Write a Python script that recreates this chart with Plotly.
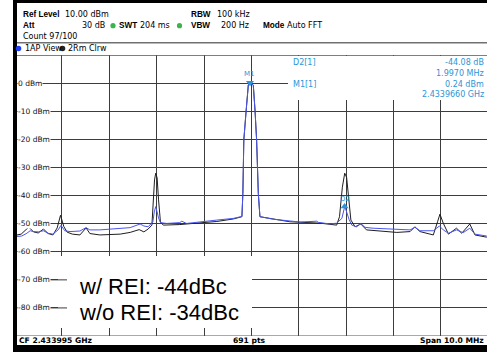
import plotly.graph_objects as go

W, H = 487, 352

# ---------------- data (frequency offset from CF in MHz, level in dBm) ----------------
# Trace 1: "1AP View" (blue) - with REI
freq_ap = [-5.0, -4.85, -4.74, -4.67, -4.60, -4.50, -4.39, -4.29, -4.19, -4.08,
           -4.02, -3.94, -3.83, -3.62, -3.49, -3.41, -3.20, -2.99, -2.77, -2.56,
           -2.35, -2.27, -2.18, -2.08, -2.05, -2.02, -1.99, -1.96, -1.92, -1.79,
           -1.51, -1.47, -1.37, -1.09, -0.73, -0.38, -0.20, -0.18, -0.16, -0.11,
           -0.065, -0.03, 0.04, 0.076, 0.11, 0.146, 0.18, 0.46, 0.81, 1.03,
           1.38, 1.41, 1.66, 1.80, 1.91, 1.94, 1.97, 2.01, 2.06, 2.12,
           2.22, 2.31, 2.40, 2.57, 3.00, 3.35, 3.45, 3.56, 3.84, 3.97,
           4.05, 4.16, 4.33, 4.47, 4.61, 4.72, 4.97]
level_ap = [-54.6, -54.4, -53.4, -52.5, -52.8, -52.9, -52.5, -53.4, -53.7, -52.2,
            -50.6, -52.5, -52.8, -52.6, -51.4, -52.2, -52.2, -51.9, -51.6, -51.4,
            -50.1, -50.8, -51.1, -49.3, -45.8, -43.9, -45.8, -48.0, -49.6, -49.9,
            -49.6, -49.1, -49.9, -49.3, -48.7, -48.1, -47.4, -39.2, -20.2, -9.5,
            -0.6, 0.24, -0.6, -9.5, -20.2, -39.2, -47.5, -48.4, -49.0, -49.4,
            -49.1, -49.5, -50.1, -49.8, -48.1, -45.8, -43.84, -45.8, -48.4, -50.5,
            -51.1, -49.9, -51.3, -51.6, -52.0, -52.2, -51.3, -52.5, -52.5, -50.8,
            -52.2, -53.4, -52.2, -53.2, -51.6, -53.7, -54.4]

# Trace 2: "2Rm Clrw" (black) - without REI
freq_rm = [-5.0, -4.86, -4.70, -4.60, -4.50, -4.39, -4.29, -4.19, -4.10, -4.03,
           -3.96, -3.89, -3.78, -3.62, -3.49, -3.41, -3.20, -2.77, -2.56, -2.37,
           -2.27, -2.18, -2.10, -2.07, -2.045, -2.02, -1.99, -1.96, -1.92, -1.86,
           -1.51, -1.09, -0.73, -0.38, -0.20, -0.18, -0.16, -0.11, -0.065, -0.03,
           0.04, 0.076, 0.11, 0.146, 0.18, 0.81, 1.45, 1.80, 1.86, 1.92,
           1.97, 2.01, 2.05, 2.10, 2.19, 2.31, 2.43, 2.72, 3.07, 3.35,
           3.45, 3.56, 3.84, 3.93, 3.98, 4.05, 4.16, 4.33, 4.44, 4.61,
           4.72, 4.97]
level_rm = [-54.2, -53.7, -51.2, -52.9, -53.3, -51.9, -53.5, -54.0, -51.5, -47.0,
            -51.0, -53.0, -53.7, -54.0, -51.5, -53.5, -54.0, -53.7, -53.1, -52.1,
            -52.9, -51.9, -50.5, -41.5, -34.4, -32.0, -33.7, -41.5, -49.4, -50.5,
            -50.3, -49.7, -49.2, -48.3, -47.5, -39.2, -20.2, -9.5, -0.6, 0.24,
            -0.6, -9.5, -20.2, -39.2, -47.5, -49.3, -49.8, -50.5, -47.5, -37.0,
            -32.0, -33.5, -40.0, -48.7, -51.1, -50.1, -52.2, -52.5, -53.1, -52.8,
            -51.1, -52.8, -54.0, -49.3, -46.6, -49.8, -53.7, -51.6, -53.4, -50.1,
            -54.0, -54.8]

assert len(freq_ap) == len(level_ap) and len(freq_rm) == len(level_rm)

# markers
m1_freq, m1_level = -0.03, 0.24
d2_freq, d2_level = 1.967, -43.84

y_tick_values = [0, -10, -20, -30, -40, -50, -60, -70, -80]
y_tick_labels = ["0 dBm", "-10 dBm", "-20 dBm", "-30 dBm", "-40 dBm",
                 "-50 dBm", "-60 dBm", "-70 dBm", "-80 dBm"]

marker_info_left = ["D2[1]", "M1[1]"]
marker_info_right = ["-44.08 dB", "1.9970 MHz", "0.24 dBm", "2.4339660 GHz"]
note_lines = ["w/ REI: -44dBc", "w/o REI: -34dBc"]

# ---------------- helpers (pixel -> paper) ----------------
def xp(px):
    return px / W


def yp(py):
    return 1 - py / H


FONT = "DejaVu Sans"
BOLD_FONT = "Liberation Sans"
BLUE_TXT = "#2a96d6"
GRID = "#3c3c3c"

fig = go.Figure()
fig.add_trace(go.Scatter(x=freq_rm, y=level_rm, mode="lines",
                         line=dict(color="#1e1e1e", width=1), hoverinfo="skip"))
fig.add_trace(go.Scatter(x=freq_ap, y=level_ap, mode="lines",
                         line=dict(color="#4a55f0", width=1), hoverinfo="skip"))
fig.add_trace(go.Scatter(x=[m1_freq], y=[m1_level], mode="markers",
                         marker=dict(symbol="triangle-down", size=7, color=BLUE_TXT),
                         cliponaxis=False, hoverinfo="skip"))
fig.add_trace(go.Scatter(x=[d2_freq], y=[d2_level], mode="markers",
                         marker=dict(symbol="triangle-up", size=7, color=BLUE_TXT),
                         cliponaxis=False, hoverinfo="skip"))

x_left = -(251.4 - 15) / 47.37
x_right = (487 - 251.4) / 47.37

fig.update_layout(
    width=W, height=H, margin=dict(l=0, r=0, t=0, b=0),
    paper_bgcolor="white", plot_bgcolor="white", showlegend=False,
    xaxis=dict(domain=[xp(15), 1], range=[x_left, x_right], tick0=0, dtick=1,
               showgrid=True, gridcolor=GRID, gridwidth=1, zeroline=False,
               showticklabels=False, ticks="", showline=False, fixedrange=True),
    yaxis=dict(domain=[yp(336), yp(55.3)], range=[-90, 10], tick0=0, dtick=10,
               showgrid=True, gridcolor=GRID, gridwidth=1, zeroline=False,
               showticklabels=False, ticks="", showline=False, fixedrange=True),
)

shapes = []
# white cover boxes (marker info, note)
shapes.append(dict(type="rect", xref="paper", yref="paper", x0=xp(288), x1=1,
                   y0=yp(100), y1=yp(56), fillcolor="white", line=dict(width=0), layer="above"))
shapes.append(dict(type="rect", xref="paper", yref="paper", x0=xp(58), x1=xp(252),
                   y0=yp(328), y1=yp(256), fillcolor="white", line=dict(width=0), layer="above"))
# short grid stubs next to the -70 / -80 labels
for v in (-70, -80):
    shapes.append(dict(type="line", xref="paper", yref="y", x0=xp(15), x1=xp(67),
                       y0=v, y1=v, line=dict(color=GRID, width=1), layer="above"))
# graph frame top/bottom
for v in (10, -90):
    shapes.append(dict(type="line", xref="paper", yref="y", x0=xp(15), x1=1,
                       y0=v, y1=v, line=dict(color="#555555", width=1.2), layer="above"))
# header separator
shapes.append(dict(type="line", xref="paper", yref="paper", x0=xp(17), x1=1,
                   y0=yp(42.7), y1=yp(42.7), line=dict(color="#707070", width=1.5)))
# black frame bars
shapes.append(dict(type="rect", xref="paper", yref="paper", x0=xp(13), x1=xp(17),
                   y0=0, y1=1, fillcolor="black", line=dict(width=0), layer="above"))
shapes.append(dict(type="rect", xref="paper", yref="paper", x0=xp(13), x1=1,
                   y0=yp(3), y1=1, fillcolor="black", line=dict(width=0), layer="above"))
shapes.append(dict(type="rect", xref="paper", yref="paper", x0=xp(13), x1=1,
                   y0=0, y1=yp(345), fillcolor="black", line=dict(width=0), layer="above"))


def dot(cx, cy, r, color):
    return dict(type="circle", xref="paper", yref="paper",
                x0=xp(cx - r), x1=xp(cx + r), y0=yp(cy + r), y1=yp(cy - r),
                fillcolor=color, line=dict(width=0), layer="above")


shapes.append(dot(113, 25.7, 2.6, "#3cb44a"))
shapes.append(dot(179.5, 25.7, 2.6, "#3cb44a"))
shapes.append(dot(18.5, 48.5, 2.8, "#1a3cff"))
shapes.append(dot(62.5, 48.5, 2.8, "#222222"))
fig.update_layout(shapes=shapes)

ann = []


def txt(text, px, py, anchor="left", size=8, color="black", family=FONT):
    ann.append(dict(text=text, xref="paper", yref="paper", x=xp(px), y=yp(py),
                    xanchor=anchor, yanchor="middle", showarrow=False,
                    font=dict(family=family, size=size, color=color)))


def btxt(text, px, py, anchor="left", size=8.2):
    txt("<b>" + text + "</b>", px, py, anchor=anchor, size=size, family=BOLD_FONT)


# header
btxt("Ref Level", 21, 14)
txt("10.00 dBm", 63, 14)
btxt("RBW", 189, 14)
txt("100 kHz", 215, 14)
btxt("Att", 21, 25.7)
txt("30 dB", 107, 25.7, anchor="right")
btxt("SWT", 117, 25.7)
txt("204 ms", 138, 25.7)
btxt("VBW", 189, 25.7)
txt("200 Hz", 219, 25.7)
btxt("Mode", 261, 25.7)
txt("Auto FFT", 285, 25.7)
txt("Count 97/100", 21, 36.5)
txt("1AP View", 22.5, 48.5)
txt("2Rm Clrw", 66, 48.5)

# marker info
txt(marker_info_left[0], 290.5, 62.3, color=BLUE_TXT, size=8)
txt(marker_info_left[1], 290.5, 84, color=BLUE_TXT, size=8)
for t, yy in zip(marker_info_right, [62.3, 73.3, 84, 94.6]):
    txt(t, 486, yy, anchor="right", color=BLUE_TXT, size=8)

# marker labels
ann.append(dict(text="M1", x=m1_freq, y=m1_level, xref="x", yref="y", showarrow=False,
                yshift=9, font=dict(family=FONT, size=7, color=BLUE_TXT)))
ann.append(dict(text="D2", x=d2_freq, y=d2_level, xref="x", yref="y", showarrow=False,
                yshift=7, font=dict(family=FONT, size=7, color=BLUE_TXT)))

# y labels
for v, lab in zip(y_tick_values, y_tick_labels):
    ann.append(dict(text=lab, xref="paper", yref="y", x=xp(17), y=v, xanchor="left",
                    yanchor="middle", showarrow=False, bgcolor="white", borderpad=0,
                    font=dict(family=FONT, size=7.5, color="#111111")))

# note
txt(note_lines[0], 77, 286.5, size=22, family="Liberation Sans")
txt(note_lines[1], 77, 312.5, size=22, family="Liberation Sans")

# footer
txt("<b>CF 2.433995 GHz</b>", 17, 340.5, size=7.6)
txt("<b>691 pts</b>", 250, 340.5, anchor="center", size=7.6)
txt("<b>Span 10.0 MHz</b>", 486, 340.5, anchor="right", size=7.6)

fig.update_layout(annotations=ann)
fig.write_html("out.html", config={"displayModeBar": False})
